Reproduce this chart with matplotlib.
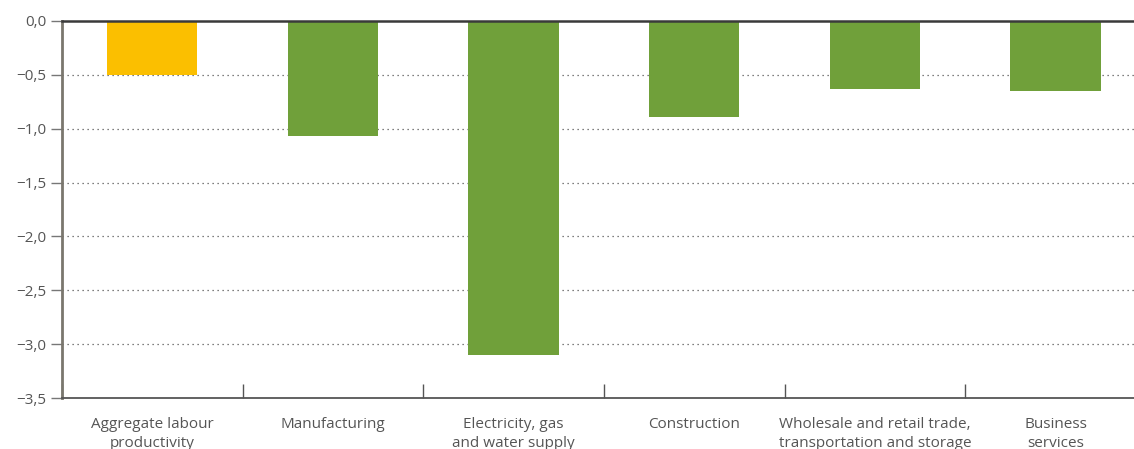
import numpy as np
import matplotlib.pyplot as plt

categories = ['Aggregate labour\nproductivity', 'Manufacturing', 'Electricity, gas\nand water supply',
              'Construction', 'Wholesale and retail trade,\ntransportation and storage', 'Business\nservices']
values = [-0.50, -1.07, -3.10, -0.89, -0.63, -0.65]
colors = ['#FBBF00', '#70A03A', '#70A03A', '#70A03A', '#70A03A', '#70A03A']
yticks = [0.0, -0.5, -1.0, -1.5, -2.0, -2.5, -3.0, -3.5]

plt.rcParams['font.family'] = ['Open Sans', 'DejaVu Sans']

fig = plt.figure(figsize=(11.34, 4.49), dpi=100)
ax = fig.add_axes([62/1134, 51/449, 1084/1134, 377/449])

x = np.arange(len(categories))
ax.bar(x, values, width=0.5, color=colors, zorder=3)

ax.set_xlim(-0.5, len(categories) - 0.5)
ax.set_ylim(-3.5, 0)

# dotted grid
for y in yticks[1:-1]:
    ax.axhline(y, color='#555555', linestyle=(0, (1, 3)), linewidth=0.9, zorder=1)
ax.axhline(0, color='#3a3a3a', linewidth=1.8, zorder=4, clip_on=False)

ax.set_yticks(yticks)
ax.set_yticklabels([('%.1f' % v).replace('-', '\u2212').replace('.', ',') for v in yticks])
ax.tick_params(axis='y', direction='out', length=8, width=1, color='#777777',
               labelsize=11, labelcolor='#555555', pad=3)

# category boundaries as ticks
ax.set_xticks(np.arange(len(categories) + 1) - 0.5)
ax.set_xticklabels([])
ax.tick_params(axis='x', direction='in', length=10, width=1, color='#555555')
ax.set_xticks(x, minor=True)
ax.set_xticklabels(categories, minor=True, linespacing=1.35)
ax.tick_params(axis='x', which='minor', length=0, labelsize=11, labelcolor='#555555', pad=14)

for s in ['top', 'right']:
    ax.spines[s].set_visible(False)
ax.spines['left'].set_color('#7a776e')
ax.spines['left'].set_linewidth(2)
ax.spines['bottom'].set_color('#555555')
ax.spines['bottom'].set_linewidth(1.3)

fig.savefig('out.png', dpi=100)
